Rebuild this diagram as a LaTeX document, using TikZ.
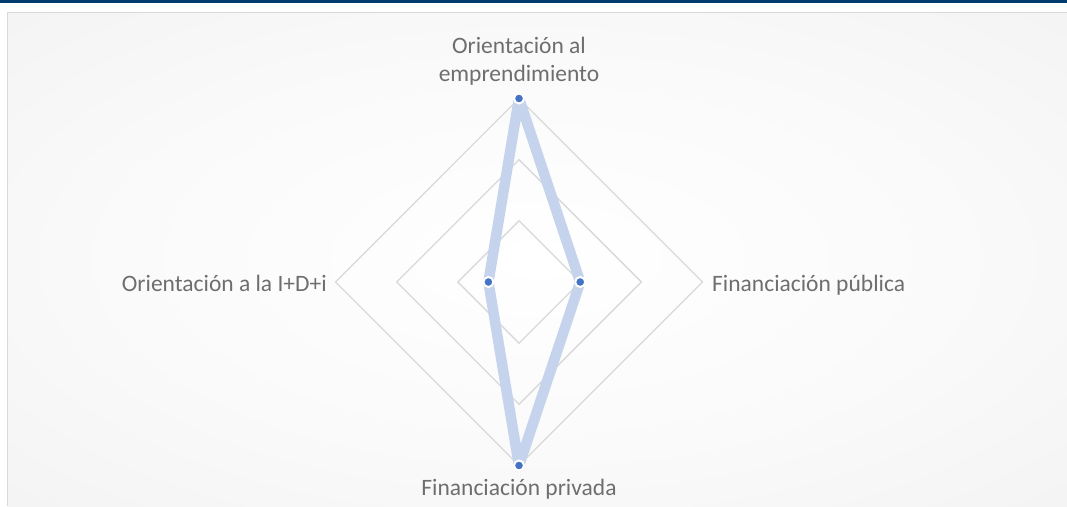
\documentclass[tikz,border=0pt]{standalone}
\usepackage{fontspec}
\setmainfont{Carlito}
\definecolor{topbar}{HTML}{003B6F}
\definecolor{gridc}{HTML}{D9D9D9}
\definecolor{serieline}{HTML}{C5D3EC}
\definecolor{seriedot}{HTML}{4472C4}
\definecolor{labelc}{HTML}{6E6E6E}
\definecolor{bgouter}{HTML}{EEEEEE}
\definecolor{framec}{HTML}{D9D9D9}
\pgfdeclareradialshading{bgshade}{\pgfpoint{0bp}{0bp}}{color(0bp)=(white); color(20bp)=(white!70!bgouter); color(50bp)=(bgouter); color(100bp)=(bgouter)}
\begin{document}
\begin{tikzpicture}[x=1pt,y=-1pt,
  gridline/.style={draw=gridc, line width=1.3pt},
  serie/.style={draw=serieline, line width=10.5pt, line join=round},
  datadot/.style={circle, fill=seriedot, draw=white, line width=2pt, minimum size=10pt, inner sep=0pt},
  axlabel/.style={text=labelc, font=\fontsize{23.5}{28}\selectfont, inner sep=0pt}]
\useasboundingbox (0,0) rectangle (1067,506);
\fill[white] (0,0) rectangle (1067,506);
\shade[shading=bgshade] (7.5,12.7) rectangle (1067,506);
\fill[topbar] (0,0) rectangle (1067,3);
\draw[framec, line width=1.5pt] (7.5,506) -- (7.5,12.7) -- (1067,12.7);
% grid
\coordinate (c) at (519,282);
\foreach \r in {61.17,122.33,183.5}{
  \draw[gridline] (519,282-\r) -- (519+\r,282) -- (519,282+\r) -- (519-\r,282) -- cycle;
}
% data
\coordinate (pt) at (519,98.5);
\coordinate (pr) at (580.2,282);
\coordinate (pb) at (519,465.5);
\coordinate (pl) at (488.4,282);
\draw[serie] (pt) -- (pr) -- (pb) -- (pl) -- cycle;
\node[datadot] (dt) at (pt) {};
\node[datadot] (dr) at (pr) {};
\node[datadot] (db) at (pb) {};
\node[datadot] (dl) at (pl) {};
% labels
\node[axlabel, anchor=south, align=center, text depth=0pt] (lt) at (519,81.7) {Orientación al\\emprendimiento};
\node[axlabel, anchor=base west] (lr) at (712,291) {Financiación pública};
\node[axlabel, anchor=base] (lb) at (519,495) {Financiación privada};
\node[axlabel, anchor=base east] (ll) at (327,291) {Orientación a la I+D+i};
\end{tikzpicture}
\end{document}
